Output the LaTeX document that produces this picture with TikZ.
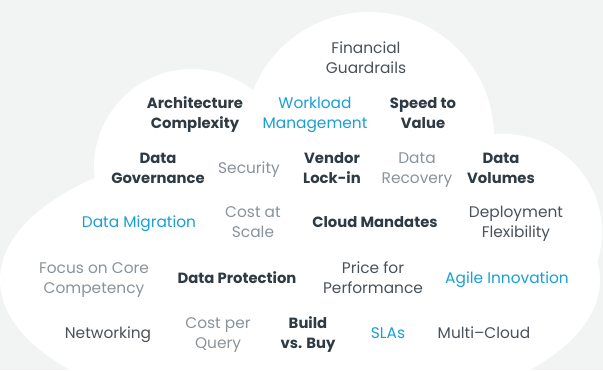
\documentclass[tikz,border=0pt]{standalone}
\usepackage{fontspec}
\setmainfont{Poppins}
\definecolor{bg}{HTML}{F2F3F3}
\definecolor{darkt}{HTML}{2F3B44}
\definecolor{regt}{HTML}{4A5259}
\definecolor{lightt}{HTML}{8A9399}
\definecolor{bluet}{HTML}{1A9FD4}
\tikzset{
  lbl/.style={align=center, inner sep=0pt, yshift=-2.5pt, font=\fontsize{15.4}{20}\selectfont},
  boldlbl/.style={lbl, text=darkt, font=\fontsize{14.8}{20}\selectfont\bfseries},
  bluelbl/.style={lbl, text=bluet},
  reglbl/.style={lbl, text=regt},
  lightlbl/.style={lbl, text=lightt},
  lobe/.style={fill=white, draw=none}
}
\begin{document}
\begin{tikzpicture}[x=1pt,y=-1pt]
\useasboundingbox (0,0) rectangle (603,370);
\fill[bg] (0,0) rectangle (603,370);
% cloud lobes
\fill[lobe] (300,280) ellipse [x radius=300pt, y radius=140pt];
\fill[lobe] (192,167) circle [radius=98pt];
\fill[lobe] (369,137) circle [radius=125pt];
\fill[lobe] (504,232) circle [radius=98pt];
% labels
\node[reglbl]   (fin)  at (366,57)  {\strut Financial\\\strut Guardrails};
\node[boldlbl]  (arch) at (195,112) {\strut Architecture\\\strut Complexity};
\node[bluelbl]  (work) at (315,112) {\strut Workload\\\strut Management};
\node[boldlbl]  (speed) at (423,112) {\strut Speed to\\\strut Value};
\node[boldlbl]  (gov)  at (158,167) {\strut Data\\\strut Governance};
\node[lightlbl] (sec)  at (249,167) {\strut Security};
\node[boldlbl]  (vend) at (332,167) {\strut Vendor\\\strut Lock-in};
\node[lightlbl] (rec)  at (417,167) {\strut Data\\\strut Recovery};
\node[boldlbl]  (vol)  at (501,167) {\strut Data\\\strut Volumes};
\node[bluelbl]  (mig)  at (139,221) {\strut Data Migration};
\node[lightlbl] (cas)  at (253,221) {\strut Cost at\\\strut Scale};
\node[boldlbl]  (mand) at (375,221) {\strut Cloud Mandates};
\node[reglbl]   (dep)  at (516,221) {\strut Deployment\\\strut Flexibility};
\node[lightlbl] (foc)  at (94,277)  {\strut Focus on Core\\\strut Competency};
\node[boldlbl]  (prot) at (237,277) {\strut Data Protection};
\node[reglbl]   (ppf)  at (373,277) {\strut Price for\\\strut Performance};
\node[bluelbl]  (agile) at (507,277) {\strut Agile Innovation};
\node[reglbl]   (net)  at (108,332) {\strut Networking};
\node[lightlbl] (cpq)  at (218,332) {\strut Cost per\\\strut Query};
\node[boldlbl]  (build) at (308,332) {\strut Build\\\strut vs. Buy};
\node[bluelbl]  (sla)  at (388,332) {\strut SLAs};
\node[reglbl]   (multi) at (484,332) {\strut Multi--Cloud};
\end{tikzpicture}
\end{document}
